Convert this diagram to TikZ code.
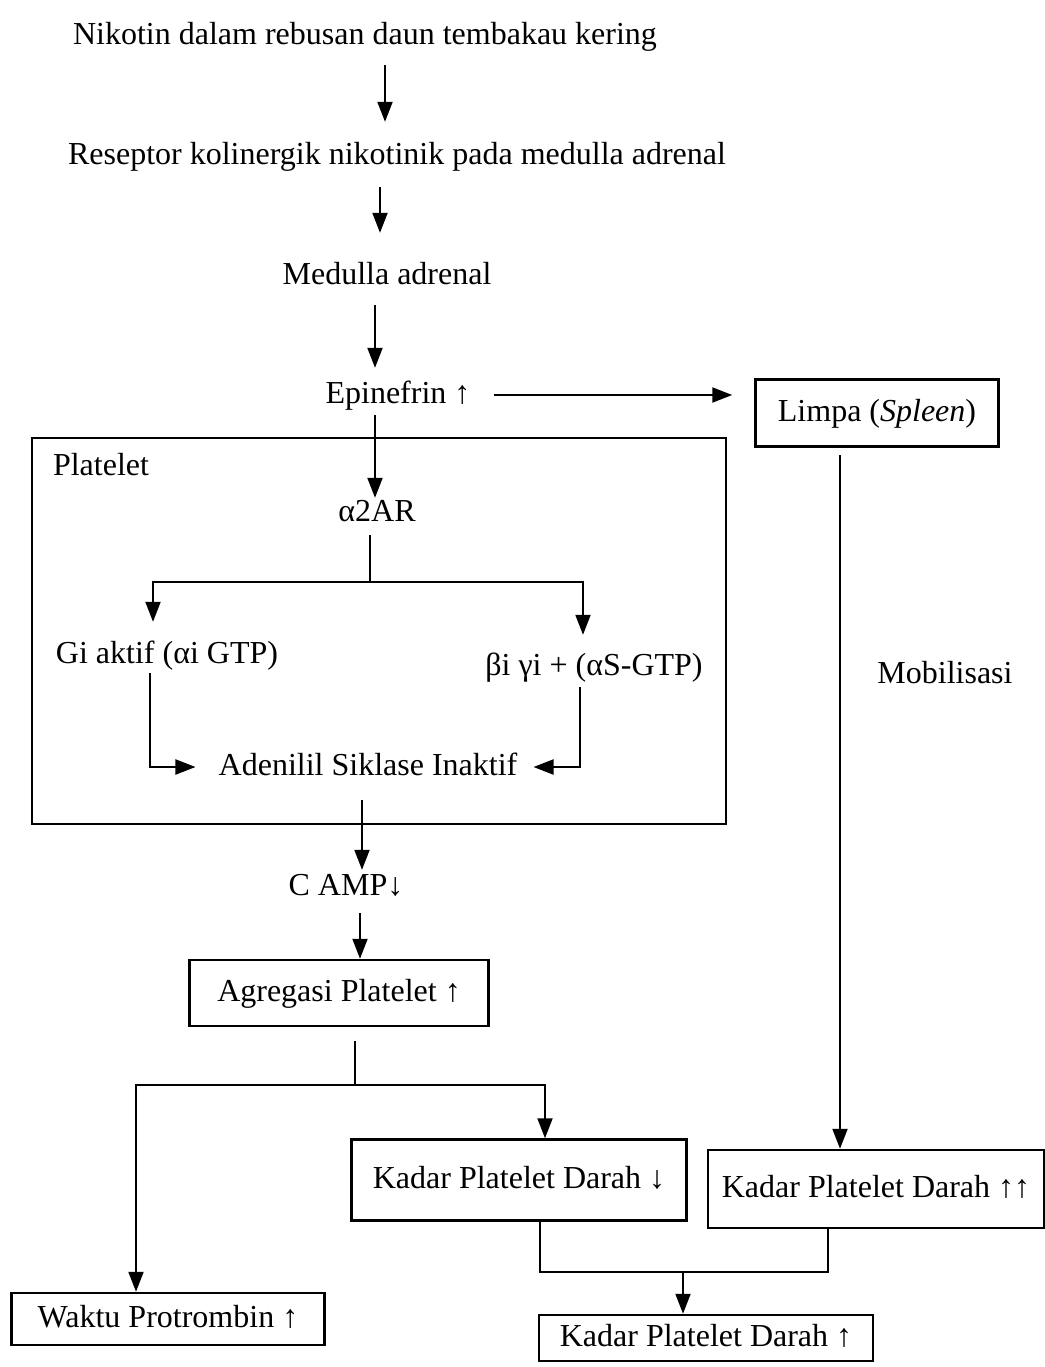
\documentclass[tikz,border=0pt]{standalone}
\usepackage{fontspec}
\setmainfont{Liberation Serif}
\usetikzlibrary{arrows.meta}
\begin{document}
\begin{tikzpicture}[x=1pt,y=-1pt,
  txt/.style={font=\fontsize{32}{38}\selectfont, inner sep=0pt, text height=23pt, text depth=7pt},
  boxed/.style={txt, draw, line width=2.5pt},
  ln/.style={line width=2pt},
  arr/.style={ln, -{Triangle[length=20pt,width=15pt]}}]
\useasboundingbox (0,0) rectangle (1044,1367);
% frame of platelet
\node[draw, line width=2.5pt, minimum width=694pt, minimum height=386pt, inner sep=0pt] (plbox) at (379,631) {};
\node[txt] (pllab) at (101,467) {Platelet};
% text nodes
\node[txt] (nik) at (365,37) {Nikotin dalam rebusan daun tembakau kering};
\node[txt] (res) at (397,157) {Reseptor kolinergik nikotinik pada medulla adrenal};
\node[txt] (med) at (387,276) {Medulla adrenal};
\node[txt] (epi) at (398,395) {Epinefrin ↑};
\node[boxed, minimum width=243pt, minimum height=67pt] (limpa) at (877,413) {Limpa (\textit{Spleen})};
\node[txt] (a2ar) at (377,513) {α2AR};
\node[txt] (gi) at (167,655) {Gi aktif (αi GTP)};
\node[txt] (bg) at (594,667) {βi γi + (αS-GTP)};
\node[txt] (ac) at (368,767) {Adenilil Siklase Inaktif};
\node[txt] (camp) at (346,887) {C AMP↓};
\node[boxed, minimum width=299pt, minimum height=66pt] (agr) at (339,993) {Agregasi Platelet ↑};
\node[txt] (mob) at (945,675) {Mobilisasi};
\node[boxed, minimum width=335pt, minimum height=81pt] (kd) at (519,1180) {Kadar Platelet Darah ↓};
\node[boxed, minimum width=336pt, minimum height=78pt] (kuu) at (876,1189) {Kadar Platelet Darah ↑↑};
\node[boxed, minimum width=313pt, minimum height=52pt] (wp) at (168,1319) {Waktu Protrombin ↑};
\node[boxed, minimum width=334pt, minimum height=46pt] (kup) at (706,1338) {Kadar Platelet Darah ↑};
% coordinates
\coordinate (s1) at (370,582);
\coordinate (s2) at (355,1085);
\coordinate (s3) at (683,1272);
% connectors
\draw[arr, shorten <=13pt, shorten >=20pt] (nik.south -| 385,0) -- (res.north -| 385,0);
\draw[arr, shorten <=15pt, shorten >=28pt] (res.south -| 380,0) -- (med.north -| 380,0);
\draw[arr, shorten <=14pt, shorten >=12pt] (med.south -| 375,0) -- (epi.north -| 375,0);
\draw[arr, shorten <=23pt, shorten >=22pt] (epi.east) -- (limpa.west |- epi.east);
\draw[arr, shorten <=5pt] (epi.south -| 375,0) -- (a2ar.north -| 375,0);
\draw[ln, shorten <=7pt] (a2ar.south -| s1) -- (s1);
\draw[arr, shorten >=18pt] (s1) -| (gi.north -| 153,0);
\draw[arr, shorten >=17pt] (s1) -| (bg.north -| 583,0);
\draw[arr, shorten <=3pt, shorten >=23pt] (gi.south -| 150,0) |- (ac.west);
\draw[arr, shorten <=5pt, shorten >=16pt] (bg.south -| 580,0) |- (ac.east);
\draw[arr, shorten <=18pt, shorten >=2pt] (ac.south -| 362,0) -- (camp.north -| 362,0);
\draw[arr, shorten <=11pt] (camp.south -| 360,0) -- (agr.north -| 360,0);
\draw[ln, shorten <=14pt] (agr.south -| s2) -- (s2);
\draw[arr] (s2) -| (wp.north -| 136,0);
\draw[arr] (s2) -| (kd.north -| 545,0);
\draw[arr, shorten <=7pt] (limpa.south -| 840,0) -- (kuu.north -| 840,0);
\draw[ln] (kd.south -| 540,0) |- (s3) -| (kuu.south -| 828,0);
\draw[arr] (s3) -- (kup.north -| s3);
\end{tikzpicture}
\end{document}
